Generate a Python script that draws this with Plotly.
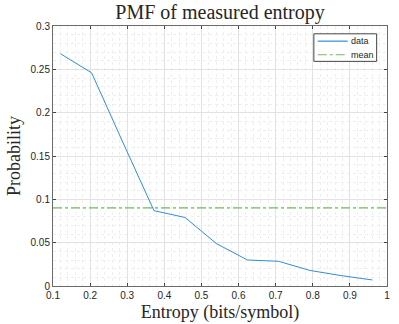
import plotly.graph_objects as go

entropy = [0.12, 0.204, 0.288, 0.372, 0.456, 0.54, 0.624, 0.708, 0.792, 0.876, 0.96]
probability = [0.268, 0.246, 0.166, 0.087, 0.079, 0.049, 0.030, 0.0285, 0.018, 0.012, 0.007]
mean_value = 0.0901
x_range = [0.1, 1.0]
y_range = [0, 0.3]
x_ticks = [0.1, 0.2, 0.3, 0.4, 0.5, 0.6, 0.7, 0.8, 0.9, 1.0]
x_tick_labels = ["0.1", "0.2", "0.3", "0.4", "0.5", "0.6", "0.7", "0.8", "0.9", "1"]
y_ticks = [0, 0.05, 0.1, 0.15, 0.2, 0.25, 0.3]
y_tick_labels = ["0", "0.05", "0.1", "0.15", "0.2", "0.25", "0.3"]
series_names = ["data", "mean"]
series_colors = ["#2f8fd6", "#6fbf5a"]
series_dash = ["solid", "dashdot"]

fig = go.Figure()
fig.add_trace(go.Scatter(x=entropy, y=probability, mode="lines", name=series_names[0],
                         line=dict(color=series_colors[0], width=1), showlegend=False))
fig.add_trace(go.Scatter(x=x_range, y=[mean_value, mean_value], mode="lines", name=series_names[1],
                         line=dict(color=series_colors[1], width=1.3, dash=series_dash[1]),
                         showlegend=False))

axis_common = dict(
    showline=True, linecolor="#6a6a6a", linewidth=1, mirror="ticks",
    ticks="inside", ticklen=3, tickcolor="#444444",
    showgrid=True, gridcolor="#e2e2e2", gridwidth=1,
    zeroline=False, automargin=False,
    tickfont=dict(family="Liberation Sans, Arial", size=10, color="#262626"),
)

fig.update_xaxes(range=x_range, tickvals=x_ticks, ticktext=x_tick_labels,
                 minor=dict(dtick=0.02, tick0=0.1, showgrid=True, gridcolor="#eeeeee",
                            griddash="dot", ticks=""),
                 title=dict(text="Entropy (bits/symbol)", standoff=5,
                            font=dict(family="Liberation Serif, serif", size=18, color="#262626")),
                 **axis_common)
fig.update_yaxes(range=y_range, tickvals=y_ticks, ticktext=y_tick_labels,
                 minor=dict(dtick=0.01, tick0=0, showgrid=True, gridcolor="#eeeeee",
                            griddash="dot", ticks=""),
                 title=dict(text="Probability", standoff=5,
                            font=dict(family="Liberation Serif, serif", size=18, color="#262626")),
                 **axis_common)

# Compact boxed legend in the top-right corner, as in the original
legend_box = dict(x0=0.781, x1=0.969, y0=0.864, y1=0.970)
legend_rows = [0.9417, 0.8894]
fig.add_shape(type="rect", xref="paper", yref="paper", **legend_box,
              line=dict(color="#444444", width=1), fillcolor="white", layer="above")
for name, color, dash, yrow in zip(series_names, series_colors, series_dash, legend_rows):
    fig.add_shape(type="line", xref="paper", yref="paper", x0=0.7925, x1=0.8823, y0=yrow, y1=yrow,
                  line=dict(color=color, width=1.2, dash=dash), layer="above")
    fig.add_annotation(xref="paper", yref="paper", x=0.886, y=yrow, text=name,
                       xanchor="left", yanchor="middle", showarrow=False,
                       font=dict(family="Liberation Sans, Arial", size=9, color="#262626"))

fig.update_layout(
    width=399, height=324,
    margin=dict(l=53, r=12, t=26, b=38),
    paper_bgcolor="white", plot_bgcolor="white",
    title=dict(text="PMF of measured entropy", x=0.5515, xanchor="center", y=0.962, yanchor="middle",
               font=dict(family="Liberation Serif, serif", size=20, color="#262626")),
    showlegend=False,
)

fig.write_html("out.html", config={"displayModeBar": False},
               post_script="document.body.style.margin='0';")
